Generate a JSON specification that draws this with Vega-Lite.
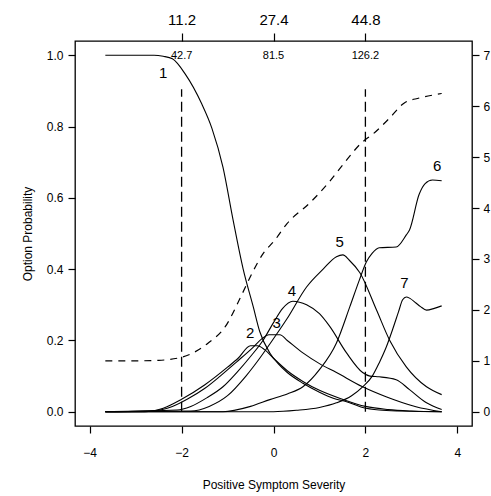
{
  "$schema": "https://vega.github.io/schema/vega-lite/v6.json",
  "autosize": "none",
  "width": 397,
  "height": 385,
  "padding": {"left": 75, "top": 41, "right": 19, "bottom": 70},
  "background": "white",
  "config": {
    "view": {"stroke": "black", "strokeWidth": 1.3},
    "axis": {"domain": false, "grid": false, "tickColor": "black", "tickSize": 7, "tickWidth": 1.2, "labelColor": "black", "labelFont": "Liberation Sans", "titleFont": "Liberation Sans", "titleFontWeight": "normal", "titleColor": "black", "labelFontSize": 12, "titleFontSize": 12}
  },
  "datasets": {
    "curves": [
      {"c":"1","x":-3.66,"p":1.0},{"c":"1","x":-3.0,"p":1.0},{"c":"1","x":-2.6,"p":1.0},{"c":"1","x":-2.4,"p":0.997},{"c":"1","x":-2.2,"p":0.99},{"c":"1","x":-1.92,"p":0.947},{"c":"1","x":-1.56,"p":0.863},{"c":"1","x":-1.34,"p":0.795},{"c":"1","x":-1.1,"p":0.686},{"c":"1","x":-0.88,"p":0.538},{"c":"1","x":-0.66,"p":0.4},{"c":"1","x":-0.44,"p":0.294},{"c":"1","x":-0.3,"p":0.225},{"c":"1","x":-0.08,"p":0.165},{"c":"1","x":0.1,"p":0.135},{"c":"1","x":0.3,"p":0.11},{"c":"1","x":0.64,"p":0.08},{"c":"1","x":1.0,"p":0.055},{"c":"1","x":1.3,"p":0.038},{"c":"1","x":1.59,"p":0.028},{"c":"1","x":1.94,"p":0.012},{"c":"1","x":2.3,"p":0.005},{"c":"1","x":2.8,"p":0.002},{"c":"1","x":3.66,"p":0.0},
      {"c":"2","x":-3.66,"p":0},{"c":"2","x":-2.8,"p":0.0},{"c":"2","x":-2.4,"p":0.01},{"c":"2","x":-2.0,"p":0.035},{"c":"2","x":-1.5,"p":0.075},{"c":"2","x":-1.0,"p":0.125},{"c":"2","x":-0.77,"p":0.15},{"c":"2","x":-0.5,"p":0.185},{"c":"2","x":-0.35,"p":0.185},{"c":"2","x":-0.2,"p":0.175},{"c":"2","x":0.0,"p":0.15},{"c":"2","x":0.3,"p":0.115},{"c":"2","x":0.64,"p":0.085},{"c":"2","x":1.0,"p":0.06},{"c":"2","x":1.5,"p":0.035},{"c":"2","x":2.0,"p":0.015},{"c":"2","x":2.5,"p":0.006},{"c":"2","x":3.0,"p":0.002},{"c":"2","x":3.66,"p":0},
      {"c":"3","x":-3.66,"p":0},{"c":"3","x":-2.6,"p":0.003},{"c":"3","x":-2.2,"p":0.015},{"c":"3","x":-1.88,"p":0.035},{"c":"3","x":-1.5,"p":0.065},{"c":"3","x":-1.16,"p":0.1},{"c":"3","x":-0.8,"p":0.14},{"c":"3","x":-0.45,"p":0.18},{"c":"3","x":-0.25,"p":0.205},{"c":"3","x":-0.1,"p":0.216},{"c":"3","x":0.14,"p":0.216},{"c":"3","x":0.3,"p":0.2},{"c":"3","x":0.64,"p":0.165},{"c":"3","x":1.0,"p":0.135},{"c":"3","x":1.37,"p":0.11},{"c":"3","x":1.94,"p":0.07},{"c":"3","x":2.45,"p":0.042},{"c":"3","x":3.1,"p":0.014},{"c":"3","x":3.66,"p":0.0},
      {"c":"4","x":-3.66,"p":0},{"c":"4","x":-2.1,"p":0.005},{"c":"4","x":-1.8,"p":0.015},{"c":"4","x":-1.44,"p":0.04},{"c":"4","x":-1.1,"p":0.07},{"c":"4","x":-0.8,"p":0.11},{"c":"4","x":-0.5,"p":0.155},{"c":"4","x":-0.23,"p":0.2},{"c":"4","x":0.0,"p":0.25},{"c":"4","x":0.2,"p":0.29},{"c":"4","x":0.42,"p":0.31},{"c":"4","x":0.72,"p":0.3},{"c":"4","x":1.0,"p":0.275},{"c":"4","x":1.22,"p":0.24},{"c":"4","x":1.59,"p":0.165},{"c":"4","x":1.94,"p":0.11},{"c":"4","x":2.1,"p":0.1},{"c":"4","x":2.3,"p":0.098},{"c":"4","x":2.67,"p":0.09},{"c":"4","x":2.96,"p":0.062},{"c":"4","x":3.33,"p":0.025},{"c":"4","x":3.66,"p":0.006},
      {"c":"5","x":-3.66,"p":0},{"c":"5","x":-1.8,"p":0.002},{"c":"5","x":-1.4,"p":0.015},{"c":"5","x":-1.0,"p":0.045},{"c":"5","x":-0.6,"p":0.1},{"c":"5","x":-0.3,"p":0.15},{"c":"5","x":-0.08,"p":0.19},{"c":"5","x":0.29,"p":0.26},{"c":"5","x":0.72,"p":0.35},{"c":"5","x":1.08,"p":0.4},{"c":"5","x":1.37,"p":0.435},{"c":"5","x":1.51,"p":0.44},{"c":"5","x":1.65,"p":0.425},{"c":"5","x":1.88,"p":0.39},{"c":"5","x":2.24,"p":0.286},{"c":"5","x":2.53,"p":0.2},{"c":"5","x":2.89,"p":0.126},{"c":"5","x":3.33,"p":0.07},{"c":"5","x":3.66,"p":0.048},
      {"c":"6","x":-3.66,"p":0},{"c":"6","x":-1.1,"p":0.0},{"c":"6","x":-0.5,"p":0.015},{"c":"6","x":-0.08,"p":0.034},{"c":"6","x":0.3,"p":0.05},{"c":"6","x":0.64,"p":0.07},{"c":"6","x":1.0,"p":0.118},{"c":"6","x":1.37,"p":0.193},{"c":"6","x":1.66,"p":0.294},{"c":"6","x":1.87,"p":0.37},{"c":"6","x":2.02,"p":0.42},{"c":"6","x":2.15,"p":0.445},{"c":"6","x":2.3,"p":0.46},{"c":"6","x":2.67,"p":0.462},{"c":"6","x":2.89,"p":0.496},{"c":"6","x":2.96,"p":0.51},{"c":"6","x":3.17,"p":0.61},{"c":"6","x":3.3,"p":0.64},{"c":"6","x":3.46,"p":0.65},{"c":"6","x":3.66,"p":0.648},
      {"c":"7","x":-3.66,"p":0},{"c":"7","x":0.0,"p":0.0},{"c":"7","x":0.5,"p":0.004},{"c":"7","x":1.0,"p":0.012},{"c":"7","x":1.37,"p":0.025},{"c":"7","x":1.7,"p":0.045},{"c":"7","x":1.94,"p":0.07},{"c":"7","x":2.15,"p":0.1},{"c":"7","x":2.3,"p":0.137},{"c":"7","x":2.45,"p":0.18},{"c":"7","x":2.59,"p":0.23},{"c":"7","x":2.72,"p":0.28},{"c":"7","x":2.81,"p":0.314},{"c":"7","x":2.89,"p":0.322},{"c":"7","x":2.97,"p":0.318},{"c":"7","x":3.1,"p":0.305},{"c":"7","x":3.2,"p":0.295},{"c":"7","x":3.33,"p":0.285},{"c":"7","x":3.5,"p":0.29},{"c":"7","x":3.66,"p":0.297}
    ],
    "labels": [
      {"t":"1","x":-2.4,"p":0.95},{"t":"2","x":-0.51,"p":0.22},{"t":"3","x":0.07,"p":0.25},{"t":"4","x":0.4,"p":0.34},{"t":"5","x":1.44,"p":0.476},{"t":"6","x":3.56,"p":0.69},{"t":"7","x":2.85,"p":0.36}
    ],
    "inside": [
      {"t":"42.7","x":-2,"p":0.997},{"t":"81.5","x":0,"p":0.997},{"t":"126.2","x":2,"p":0.997}
    ],
    "rules": [
      {"x":-2,"p0":0,"p1":0.905},{"x":2,"p0":0,"p1":0.905}
    ],
    "tcc": [
      {"x":-3.66,"e":1.0},{"x":-3.0,"e":1.0},{"x":-2.5,"e":1.01},{"x":-2.0,"e":1.07},{"x":-1.7,"e":1.18},{"x":-1.42,"e":1.35},{"x":-1.05,"e":1.67},{"x":-0.69,"e":2.3},{"x":-0.45,"e":2.75},{"x":-0.23,"e":3.1},{"x":0.03,"e":3.37},{"x":0.29,"e":3.69},{"x":0.79,"e":4.1},{"x":1.2,"e":4.5},{"x":1.5,"e":4.84},{"x":1.94,"e":5.3},{"x":2.16,"e":5.45},{"x":2.53,"e":5.77},{"x":2.84,"e":6.06},{"x":3.17,"e":6.16},{"x":3.54,"e":6.23},{"x":3.66,"e":6.25}
    ]
  },
  "layer": [
    {
      "layer": [
        {
          "data": {"name": "curves"},
          "mark": {"type": "line", "color": "black", "strokeWidth": 1.1, "interpolate": "monotone"},
          "encoding": {
            "x": {"field": "x", "type": "quantitative", "scale": {"domain": [-4.32, 4.32], "nice": false, "zero": false},
                  "axis": {"orient": "bottom", "values": [-4, -2, 0, 2, 4], "title": "Positive Symptom Severity", "labelPadding": 14, "titlePadding": 21}},
            "y": {"field": "p", "type": "quantitative", "scale": {"domain": [-0.04, 1.04], "nice": false, "zero": false},
                  "axis": {"orient": "left", "values": [0, 0.2, 0.4, 0.6, 0.8, 1.0], "format": ".1f", "title": "Option Probability", "labelPadding": 5, "titlePadding": 12}},
            "detail": {"field": "c", "type": "nominal"}
          }
        },
        {
          "data": {"name": "rules"},
          "mark": {"type": "rule", "color": "black", "strokeWidth": 1.3, "strokeDash": [10, 5]},
          "encoding": {
            "x": {"field": "x", "type": "quantitative"},
            "y": {"field": "p0", "type": "quantitative"},
            "y2": {"field": "p1"}
          }
        },
        {
          "data": {"name": "labels"},
          "mark": {"type": "text", "font": "Liberation Sans", "fontSize": 15, "color": "black"},
          "encoding": {
            "x": {"field": "x", "type": "quantitative"},
            "y": {"field": "p", "type": "quantitative"},
            "text": {"field": "t"}
          }
        },
        {
          "data": {"name": "inside"},
          "mark": {"type": "text", "font": "Liberation Sans", "fontSize": 11, "color": "black"},
          "encoding": {
            "x": {"field": "x", "type": "quantitative"},
            "y": {"field": "p", "type": "quantitative"},
            "text": {"field": "t"}
          }
        }
      ]
    },
    {
      "data": {"name": "tcc"},
      "mark": {"type": "line", "color": "black", "strokeWidth": 1.2, "strokeDash": [7, 6], "interpolate": "monotone"},
      "encoding": {
        "x": {"field": "x", "type": "quantitative",
              "axis": {"orient": "top", "values": [-2, 0, 2], "title": null, "labelFontSize": 15, "tickSize": 8, "labelPadding": 6,
                       "labelExpr": "datum.value == -2 ? '11.2' : datum.value == 0 ? '27.4' : '44.8'"}},
        "y": {"field": "e", "type": "quantitative", "scale": {"domain": [-0.28, 7.28], "nice": false, "zero": false},
              "axis": {"orient": "right", "values": [0, 1, 2, 3, 4, 5, 6, 7], "title": null, "labelPadding": 4}}
      }
    }
  ],
  "resolve": {"scale": {"y": "independent"}, "axis": {"x": "independent", "y": "independent"}}
}
